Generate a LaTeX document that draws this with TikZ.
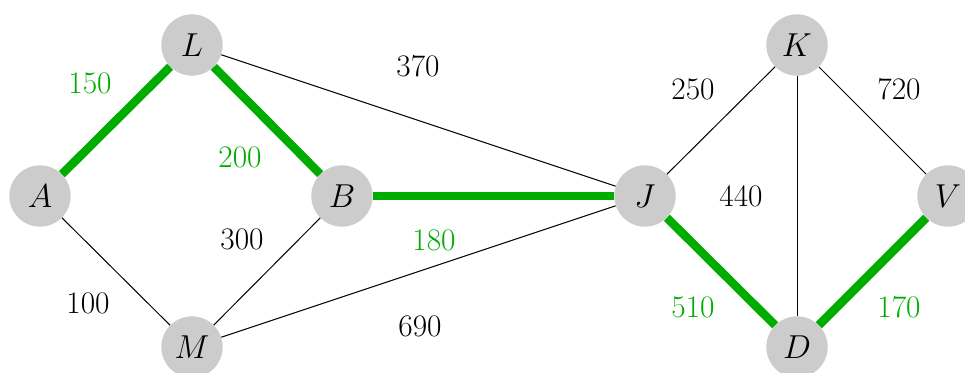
\documentclass[tikz,border=0pt]{standalone}
\definecolor{nodegray}{RGB}{204,204,204}
\definecolor{treegreen}{RGB}{0,172,0}
\begin{document}
\begin{tikzpicture}[x=0.75pt,y=-0.75pt,
  vert/.style={circle,fill=nodegray,minimum size=46pt,inner sep=0pt,font=\fontsize{23.5}{28}\selectfont},
  wlabel/.style={font=\fontsize{23.5}{28}\selectfont,inner sep=0pt},
  glabel/.style={wlabel,text=treegreen},
  thin edge/.style={line width=0.75pt},
  tree edge/.style={line width=6.4pt,treegreen}]
\useasboundingbox (0,0) rectangle (965,372);
\node[vert] (A) at (40,196) {$A$};
\node[vert] (L) at (192,45) {$L$};
\node[vert] (B) at (342,196) {$B$};
\node[vert] (M) at (192,347) {$M$};
\node[vert] (J) at (645,196) {$J$};
\node[vert] (K) at (797,45) {$K$};
\node[vert] (V) at (948,196) {$V$};
\node[vert] (D) at (797,347) {$D$};
\draw[thin edge] (L) -- (J);
\draw[thin edge] (A) -- (M);
\draw[thin edge] (B) -- (M);
\draw[thin edge] (M) -- (J);
\draw[thin edge] (J) -- (K);
\draw[thin edge] (K) -- (D);
\draw[thin edge] (K) -- (V);
\draw[tree edge] (A) -- (L);
\draw[tree edge] (L) -- (B);
\draw[tree edge] (B) -- (J);
\draw[tree edge] (J) -- (D);
\draw[tree edge] (D) -- (V);
\node[glabel] (wAL) at (90,83) {150};
\node[glabel] (wLB) at (240,157) {200};
\node[wlabel] (wLJ) at (418,66) {370};
\node[wlabel] (wBM) at (242,239) {300};
\node[wlabel] (wAM) at (88,303) {100};
\node[glabel] (wBJ) at (434,240) {180};
\node[wlabel] (wMJ) at (420,326) {690};
\node[wlabel] (wJK) at (693,89) {250};
\node[wlabel] (wKV) at (899,89) {720};
\node[wlabel] (wKD) at (741,196) {440};
\node[glabel] (wJD) at (693,307) {510};
\node[glabel] (wDV) at (899,307) {170};
\end{tikzpicture}
\end{document}
